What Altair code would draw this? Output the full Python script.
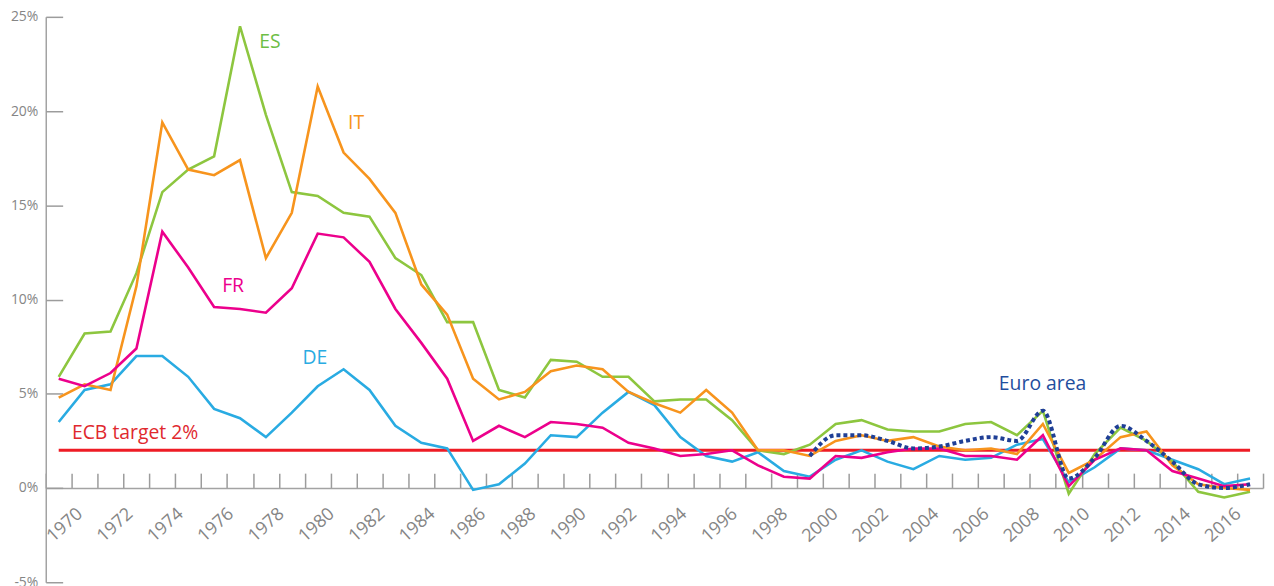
import altair as alt
import pandas as pd

# ---------------- data ----------------
years = list(range(1970, 2017))
es = [5.9, 8.2, 8.3, 11.4, 15.7, 16.9, 17.6, 24.5, 19.8, 15.7,
      15.5, 14.6, 14.4, 12.2, 11.3, 8.8, 8.8, 5.2, 4.8, 6.8,
      6.7, 5.9, 5.9, 4.6, 4.7, 4.7, 3.6, 2.0, 1.8, 2.3,
      3.4, 3.6, 3.1, 3.0, 3.0, 3.4, 3.5, 2.8, 4.1, -0.3,
      1.8, 3.2, 2.5, 1.4, -0.2, -0.5, -0.2]
it = [4.8, 5.5, 5.2, 10.7, 19.4, 16.9, 16.6, 17.4, 12.2, 14.6,
      21.3, 17.8, 16.4, 14.6, 10.8, 9.2, 5.8, 4.7, 5.1, 6.2,
      6.5, 6.3, 5.1, 4.5, 4.0, 5.2, 4.0, 2.0, 2.0, 1.7,
      2.5, 2.8, 2.5, 2.7, 2.2, 2.0, 2.1, 1.8, 3.4, 0.8,
      1.5, 2.7, 3.0, 1.2, 0.2, 0.0, -0.1]
fr = [5.8, 5.4, 6.1, 7.4, 13.6, 11.7, 9.6, 9.5, 9.3, 10.6,
      13.5, 13.3, 12.0, 9.5, 7.7, 5.8, 2.5, 3.3, 2.7, 3.5,
      3.4, 3.2, 2.4, 2.1, 1.7, 1.8, 2.0, 1.2, 0.6, 0.5,
      1.7, 1.6, 1.9, 2.1, 2.1, 1.7, 1.7, 1.5, 2.8, 0.1,
      1.5, 2.1, 2.0, 0.9, 0.5, 0.1, 0.2]
de = [3.5, 5.2, 5.5, 7.0, 7.0, 5.9, 4.2, 3.7, 2.7, 4.0,
      5.4, 6.3, 5.2, 3.3, 2.4, 2.1, -0.1, 0.2, 1.3, 2.8,
      2.7, 4.0, 5.1, 4.4, 2.7, 1.7, 1.4, 1.9, 0.9, 0.6,
      1.5, 2.0, 1.4, 1.0, 1.7, 1.5, 1.6, 2.3, 2.6, 0.3,
      1.1, 2.1, 2.0, 1.5, 1.0, 0.2, 0.5]
ea_years = list(range(1999, 2017))
ea = [1.7, 2.8, 2.8, 2.5, 2.1, 2.2, 2.5, 2.7, 2.5, 4.1,
      0.5, 1.6, 3.3, 2.5, 1.4, 0.2, 0.0, 0.2]
ecb_years = [1970, 2016]
ecb = [2.0, 2.0]

label_texts = ["ES", "IT", "FR", "DE", "Euro area", "ECB target 2%"]
label_years = [1977.74, 1981.17, 1976.31, 1979.41, 2006.30, 1970.51]
label_values = [23.34, 19.03, 10.41, 6.60, 5.19, 2.62]
label_colors = ["#6DBE45", "#F7941D", "#EC008C", "#29ABE2", "#1F4E9E", "#E0282E"]

y_tick_values = [-5, 0, 5, 10, 15, 20, 25]
x_label_values = list(range(1970, 2017, 2))
x_tick_values = [y + 0.5 for y in range(1969, 2017)]

# ---------------- styles ----------------
W, H = 1225, 569
FONT = "Open Sans"
AXIS_GRAY = "#a3a3a3"
TICK_GRAY = "#9c9c9c"
LABEL_GRAY = "#858585"

xscale = alt.Scale(domain=[1969.5, 2016.5], nice=False, zero=False)
yscale = alt.Scale(domain=[-5, 25], nice=False, zero=False)

ecb_df = pd.DataFrame({"year": ecb_years, "value": ecb})
ecb_layer = alt.Chart(ecb_df).mark_line(color="#EE1C25", strokeWidth=3).encode(
    x=alt.X("year:Q", scale=xscale, title=None,
            axis=alt.Axis(orient="bottom", offset=-94.8, values=x_label_values,
                          domain=False, ticks=False, tickSize=0, grid=False,
                          labelAngle=-42, labelAlign="right", labelBaseline="alphabetic",
                          labelPadding=27, labelFont=FONT, labelFontSize=18,
                          labelColor=LABEL_GRAY, format="d", labelOverlap=False,
                          labelOffset={"expr": "24.5 - 0.72*(datum.value - 1970)"})),
    y=alt.Y("value:Q", scale=yscale, title=None,
            axis=alt.Axis(orient="left", values=y_tick_values, ticks=False, tickSize=0,
                          grid=False, domainColor=AXIS_GRAY, domainWidth=1.5,
                          labelPadding=8, labelFont=FONT, labelFontSize=14,
                          labelColor=LABEL_GRAY, labelExpr="datum.value + '%'")),
)

series = [("DE", de, "#29ABE2"), ("ES", es, "#8DC63F"),
          ("IT", it, "#F7941D"), ("FR", fr, "#EC008C")]
country_layers = []
for i, (name, vals, col) in enumerate(series):
    d = pd.DataFrame({"year": years, "value": vals, "country": name})
    if i == 0:
        xaxis = alt.Axis(orient="top", offset=-474.2, values=x_tick_values,
                         labels=False, ticks=True, tickSize=15, tickColor=TICK_GRAY,
                         tickWidth=1.5, domainColor=AXIS_GRAY, domainWidth=1.5, grid=False)
    else:
        xaxis = None
    country_layers.append(
        alt.Chart(d).mark_line(color=col, strokeWidth=2.6).encode(
            x=alt.X("year:Q", scale=xscale, title=None, axis=xaxis),
            y=alt.Y("value:Q", scale=yscale, title=None, axis=None),
        )
    )

ea_df = pd.DataFrame({"year": ea_years, "value": ea})
ea_layer = alt.Chart(ea_df).mark_line(
    color="#1F3F96", strokeWidth=4, strokeDash=[4, 3], interpolate="monotone"
).encode(
    x=alt.X("year:Q", scale=xscale, title=None, axis=None),
    y=alt.Y("value:Q", scale=yscale, title=None,
            axis=alt.Axis(orient="right", offset=-W, values=y_tick_values,
                          labels=False, domain=False, ticks=True, tickSize=17,
                          tickColor=TICK_GRAY, tickWidth=1.5, grid=False)),
)

lab_df = pd.DataFrame({"text": label_texts, "year": label_years,
                       "value": label_values, "color": label_colors})
text_layer = alt.Chart(lab_df).mark_text(
    font=FONT, fontSize=19.5, align="left", baseline="alphabetic"
).encode(
    x=alt.X("year:Q", scale=xscale, axis=None),
    y=alt.Y("value:Q", scale=yscale, axis=None),
    text="text:N",
    color=alt.Color("color:N", scale=None),
)

chart = alt.layer(
    ecb_layer, *country_layers, ea_layer, text_layer
).resolve_axis(
    x="independent", y="independent"
).properties(
    width=W, height=H,
    padding={"left": 38, "top": 7, "right": 3, "bottom": 20},
    autosize=alt.AutoSizeParams(type="none"),
).configure_view(stroke=None)

chart.save("out.html", embed_options={"renderer": "svg", "actions": False})
